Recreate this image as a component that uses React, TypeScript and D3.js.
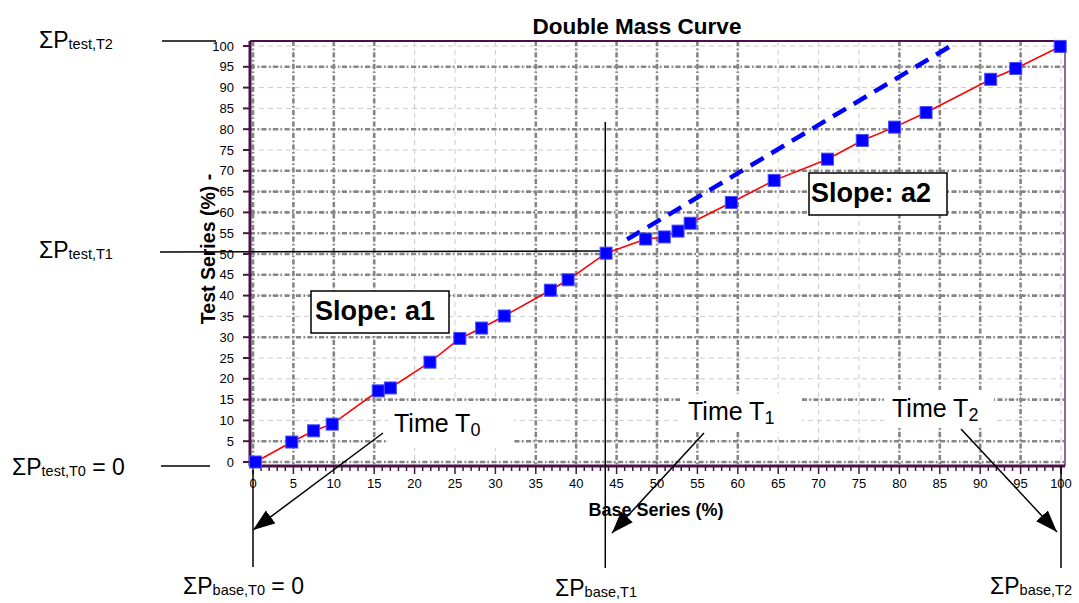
import React from "react";
import * as d3 from "d3";

// cumulative percentages
const baseSeries = [0.3, 4.8, 7.5, 9.8, 15.5, 17.0, 21.9, 25.6, 28.3, 31.1, 36.8, 39.0, 43.7, 48.6, 50.9, 52.6, 54.1, 59.2, 64.5, 71.1, 75.4, 79.4, 83.3, 91.3, 94.4, 99.9];
const testSeries = [0, 4.8, 7.5, 9.1, 17.1, 17.8, 24.0, 29.7, 32.2, 35.1, 41.3, 43.8, 50.2, 53.6, 54.1, 55.5, 57.4, 62.4, 67.7, 72.8, 77.3, 80.5, 84.0, 92.0, 94.6, 99.9];

// projection of the first slope (blue dashes)
const projBase = [46.3, 86.6];
const projTest = [53.5, 100.3];

const tickValues = d3.range(0, 101, 5);
const minorTicks = d3.range(0, 101, 1);
const heavyX = [0, 5, 10, 15, 35, 40, 45, 50, 55, 60, 80, 85, 90, 95];
const heavyY = [0, 5, 15, 30, 40, 45, 50, 55, 60, 65, 70, 80, 95];

const W = 1079;
const H = 603;
const FONT = "'Liberation Sans', Arial, sans-serif";
const PURPLE = "#4a1248";

export default function App() {
  const x = d3.scaleLinear().domain([0, 100]).range([253, 1061]);
  const y = d3.scaleLinear().domain([0, 100]).range([462, 46]);

  // frame of the plot area
  const fl = x(0) - 3, fr = x(100) + 4, ft = y(100) - 5, fb = y(0) + 4;

  const line = d3.line<number>()
    .x((_, i) => x(baseSeries[i]))
    .y((d) => y(d));

  const sq = 12;
  const t1 = [43.6, 50.5];

  // ΣP label with subscript
  const sigma = (px: number, py: number, sub: string, tail?: string) => (
    <text x={px} y={py} fontFamily={FONT} fontSize={23} fill="#000">
      ΣP
      <tspan fontSize={14.5} dy={1}>{sub}</tspan>
      {tail && <tspan fontSize={23} dy={-1}>{tail}</tspan>}
    </text>
  );

  const timeLabel = (px: number, py: number, sub: string) => (
    <text x={px} y={py} fontFamily={FONT} fontSize={25} fill="#000">
      Time T<tspan fontSize={18} dy={4}>{sub}</tspan>
    </text>
  );

  return (
    <div style={{ position: "fixed", left: 0, top: 0 }}>
      <svg width={W} height={H} style={{ display: "block", background: "#fff" }}>
        <defs>
          <marker id="head" markerUnits="userSpaceOnUse" markerWidth={24} markerHeight={18}
            refX={22} refY={8} orient="auto">
            <path d="M0,0 L22,8 L0,16 z" fill="#000" />
          </marker>
        </defs>

        {/* light grid */}
        <g stroke="#cccccc" strokeWidth={1} strokeDasharray="5,4">
          {tickValues.map((v) => (
            <line key={"lx" + v} x1={x(v)} x2={x(v)} y1={ft} y2={fb} />
          ))}
          {tickValues.map((v) => (
            <line key={"ly" + v} x1={fl} x2={fr} y1={y(v)} y2={y(v)} />
          ))}
        </g>
        {/* heavy grid */}
        <g stroke="#858585" strokeWidth={2.6} strokeDasharray="5,2.5,1.5,2.5">
          {heavyX.map((v) => (
            <line key={"hx" + v} x1={x(v)} x2={x(v)} y1={ft} y2={fb} />
          ))}
          {heavyY.map((v) => (
            <line key={"hy" + v} x1={fl} x2={fr} y1={y(v)} y2={y(v)} />
          ))}
        </g>

        {/* frame */}
        <line x1={fl} x2={fr} y1={ft} y2={ft} stroke={PURPLE} strokeWidth={2} />
        <line x1={fr} x2={fr} y1={ft} y2={fb} stroke="#6a3a68" strokeWidth={1.5} />
        <line x1={fl} x2={fl} y1={ft} y2={fb} stroke={PURPLE} strokeWidth={3} />
        <line x1={fl} x2={fr} y1={fb} y2={fb} stroke={PURPLE} strokeWidth={3} />

        {/* y axis */}
        <g fontFamily={FONT} fontSize={13} fill="#000">
          {tickValues.map((v) => (
            <g key={"yt" + v}>
              <line x1={fl - 7} x2={fl} y1={y(v)} y2={y(v)} stroke={PURPLE} strokeWidth={2} />
              <text x={234} y={y(v)} dy="0.35em" textAnchor="end">{v}</text>
            </g>
          ))}
        </g>
        {/* x axis */}
        <g fontFamily={FONT} fontSize={13} fill="#000">
          {minorTicks.map((v) => (
            <line key={"xm" + v} x1={x(v)} x2={x(v)} y1={fb} y2={fb + (v % 5 === 0 ? 8 : 5)}
              stroke={PURPLE} strokeWidth={1.5} />
          ))}
          {tickValues.map((v) => (
            <text key={"xt" + v} x={x(v)} y={488} textAnchor="middle">{v}</text>
          ))}
        </g>

        {/* titles */}
        <text x={637} y={34} textAnchor="middle" fontFamily={FONT} fontWeight="bold" fontSize={22.5}>
          Double Mass Curve
        </text>
        <text x={656} y={516} textAnchor="middle" fontFamily={FONT} fontWeight="bold" fontSize={18}>
          Base Series (%)
        </text>
        <text transform={`translate(215,249) rotate(-90)`} textAnchor="middle" fontFamily={FONT}
          fontWeight="bold" fontSize={19.5}>
          Test Series (%) -
        </text>

        {/* reference lines */}
        <g stroke="#000" strokeWidth={1.5}>
          <line x1={162} x2={216} y1={ft} y2={ft} />
          <line x1={160} x2={x(t1[0]) - 5} y1={y(t1[1])} y2={y(t1[1]) - 1} />
          <line x1={161} x2={210} y1={fb} y2={fb} />
          <line x1={x(0)} x2={x(0)} y1={470} y2={567} />
          <line x1={x(t1[0])} x2={x(t1[0])} y1={122} y2={568} />
          <line x1={x(100)} x2={x(100)} y1={fb} y2={568} />
        </g>

        {/* series */}
        <path d={line(testSeries) || ""} fill="none" stroke="#ff0000" strokeWidth={1.6} />
        <line x1={x(projBase[0])} y1={y(projTest[0])} x2={x(projBase[1])} y2={y(projTest[1])}
          stroke="#0000ff" strokeWidth={4.5} strokeDasharray="15,9" />
        {testSeries.map((v, i) => (
          <rect key={"p" + i} x={x(baseSeries[i]) - sq / 2} y={y(v) - sq / 2} width={sq} height={sq}
            fill="#0000ff" stroke="#4d4dff" strokeWidth={1} />
        ))}

        {/* slope boxes */}
        <rect x={311} y={291} width={138} height={42} fill="#fff" stroke="#000" strokeWidth={1.5} />
        <text x={315} y={320} fontFamily={FONT} fontWeight="bold" fontSize={27}>Slope: a1</text>
        <rect x={809} y={173} width={138} height={42} fill="#fff" stroke="#000" strokeWidth={1.5} />
        <text x={811} y={202} fontFamily={FONT} fontWeight="bold" fontSize={27}>Slope: a2</text>

        {/* time labels */}
        <rect x={388} y={402} width={126} height={46} fill="#fff" />
        {timeLabel(394, 432, "0")}
        <rect x={680} y={394} width={122} height={38} fill="#fff" />
        {timeLabel(688, 420, "1")}
        <rect x={884} y={390} width={110} height={38} fill="#fff" />
        {timeLabel(892, 417, "2")}

        {/* arrows */}
        <g stroke="#000" strokeWidth={1.5} markerEnd="url(#head)">
          <line x1={383} y1={433} x2={x(0)} y2={530} />
          <line x1={704} y1={433} x2={612} y2={533} />
          <line x1={961} y1={429} x2={x(100) - 4} y2={532} />
        </g>

        {/* ΣP labels */}
        {sigma(39, 48, "test,T2")}
        {sigma(39, 258, "test,T1")}
        {sigma(12, 475, "test,T0", " = 0")}
        {sigma(183, 594, "base,T0", " = 0")}
        {sigma(555, 596, "base,T1")}
        {sigma(990, 594, "base,T2")}
      </svg>
    </div>
  );
}
